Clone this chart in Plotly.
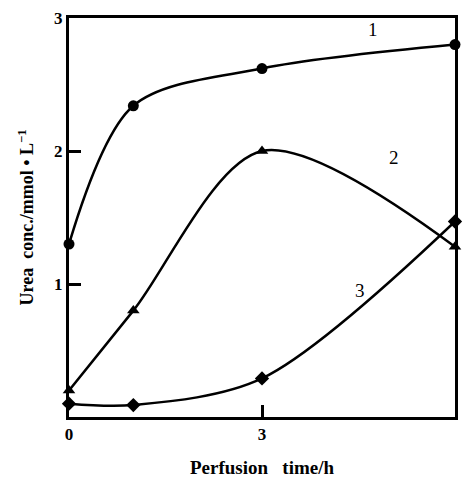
import plotly.graph_objects as go

time_h = [0, 1, 3, 6]
curve1 = [1.30, 2.34, 2.62, 2.80]
curve2 = [0.20, 0.80, 2.00, 1.28]
curve3 = [0.10, 0.09, 0.29, 1.47]
curve_labels = ["1", "2", "3"]
label_x = [4.72, 5.05, 4.52]
label_y = [2.91, 1.95, 0.95]

font_family = "Liberation Serif, Times New Roman, serif"

fig = go.Figure()
for ys, sym in [(curve1, "circle"), (curve2, "triangle-up"), (curve3, "diamond")]:
    fig.add_trace(go.Scatter(
        x=time_h, y=ys, mode="lines+markers",
        line=dict(color="black", width=2.5, shape="spline", smoothing=0.9),
        marker=dict(symbol=sym, size=11, color="black"),
        showlegend=False, cliponaxis=False,
    ))

for t, lx, ly in zip(curve_labels, label_x, label_y):
    fig.add_annotation(x=lx, y=ly, text=t, showarrow=False,
                       font=dict(family=font_family, size=19, color="black"))

fig.update_layout(
    width=465, height=489,
    margin=dict(l=69, r=7, t=18, b=72),
    paper_bgcolor="white", plot_bgcolor="white",
    font=dict(family=font_family, color="black", size=18),
)
fig.update_xaxes(
    range=[0, 6], tickvals=[0, 3], ticktext=["<b>0</b>", "<b>3</b>"],
    ticks="inside", ticklen=12, tickwidth=2.5, tickcolor="black",
    showline=True, linewidth=3, linecolor="black", mirror=True,
    showgrid=False, zeroline=False,
    title=dict(text="<b>Perfusion   time/h</b>", font=dict(size=19), standoff=18),
    tickfont=dict(size=17),
)
fig.update_yaxes(
    range=[0, 3], tickvals=[1, 2, 3], ticktext=["<b>1</b>", "<b>2</b>", "<b>3</b>"],
    ticks="inside", ticklen=12, tickwidth=2.5, tickcolor="black",
    showline=True, linewidth=3, linecolor="black", mirror=True,
    showgrid=False, zeroline=False,
    title=dict(text="<b>Urea  conc./mmol • L<sup>−1</sup></b>", font=dict(size=18), standoff=16),
    tickfont=dict(size=17),
)

fig.write_html("out.html", config={"displayModeBar": False},
               post_script="document.body.style.margin='0';")
